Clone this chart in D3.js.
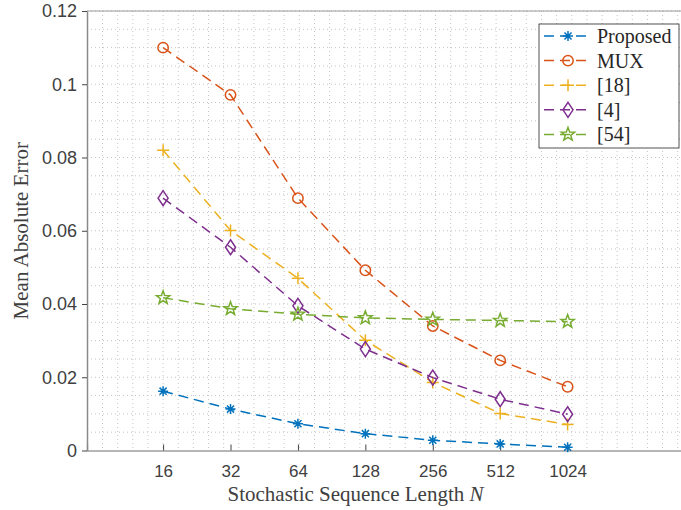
<!DOCTYPE html>
<html>
<head>
<meta charset="utf-8">
<script src="https://cdn.jsdelivr.net/npm/d3@7"></script>
<style>
  body { margin: 0; background: #fff; }
  svg { display: block; }
</style>
</head>
<body>
<div id="chart"></div>
<script>
// data
var lengths = [16, 32, 64, 128, 256, 512, 1024];
var proposed = [0.0162, 0.0113, 0.0073, 0.0046, 0.0028, 0.0018, 0.0009];
var mux      = [0.1100, 0.0971, 0.0689, 0.0492, 0.0340, 0.0246, 0.0174];
var ref18    = [0.0820, 0.0601, 0.0470, 0.0301, 0.0186, 0.0101, 0.0071];
var ref4     = [0.0689, 0.0555, 0.0395, 0.0277, 0.0199, 0.0140, 0.0099];
var ref54    = [0.0417, 0.0387, 0.0372, 0.0362, 0.0358, 0.0355, 0.0352];
var seriesNames = ["Proposed", "MUX", "[18]", "[4]", "[54]"];
var yTicks = [0, 0.02, 0.04, 0.06, 0.08, 0.1, 0.12];

var series = [
  {name: seriesNames[0], values: proposed, color: "#0072BD", marker: "asterisk"},
  {name: seriesNames[1], values: mux,      color: "#D95319", marker: "circle"},
  {name: seriesNames[2], values: ref18,    color: "#EDB120", marker: "plus"},
  {name: seriesNames[3], values: ref4,     color: "#7E2F8E", marker: "diamond"},
  {name: seriesNames[4], values: ref54,    color: "#77AC30", marker: "star"}
];

var W = 681, H = 510;
var margin = {top: 11, right: -14, bottom: 59.5, left: 87};
var width = W - margin.left - margin.right,
    height = H - margin.top - margin.bottom;

var svg = d3.select("#chart").append("svg")
  .attr("width", W).attr("height", H)
  .append("g")
  .attr("transform", `translate(${margin.left},${margin.top})`);

// x is the index of the sequence length (evenly spaced ticks)
var x = d3.scaleLinear().domain([-0.1288, 8.8895]).range([0, width]);
var y = d3.scaleLinear().domain([0, 0.12]).range([height, 0]);

// minor / major grid (dotted)
var xg = [];
for (var k = -6; k <= 36; k++) { var v = 1 + k * 0.2245; if (x(v) > 0.5 && x(v) < width) xg.push(v); }
var yg = d3.range(0.005, 0.1201, 0.005);

svg.append("g").selectAll("line").data(xg).join("line")
  .attr("x1", d => x(d)).attr("x2", d => x(d))
  .attr("y1", 0).attr("y2", height)
  .attr("stroke", "#c4c4c4").attr("stroke-width", 1)
  .attr("stroke-dasharray", "1,3");

svg.append("g").selectAll("line").data(yg).join("line")
  .attr("x1", 0).attr("x2", width)
  .attr("y1", d => y(d)).attr("y2", d => y(d))
  .attr("stroke", "#c4c4c4").attr("stroke-width", 1)
  .attr("stroke-dasharray", "1,3");

// top border
svg.append("line").attr("x1", 0).attr("x2", width).attr("y1", 0).attr("y2", 0)
  .attr("stroke", "#9a9a9a").attr("stroke-width", 1);

// axes
var xAxis = d3.axisBottom(x).tickValues(d3.range(1, 8))
  .tickFormat((d, i) => lengths[i]).tickSize(-6).tickPadding(14);
var gx = svg.append("g").attr("transform", `translate(0,${height})`).call(xAxis);
gx.select(".domain").attr("stroke", "#6e6e6e").attr("stroke-width", 1.2);
gx.selectAll(".tick line").attr("stroke", "#444");
gx.selectAll("text").attr("fill", "#404040")
  .style("font-family", "'Liberation Sans', Arial, sans-serif").style("font-size", "17px");

var yAxis = d3.axisLeft(y).tickValues(yTicks).tickFormat(d => d3.format("")(+d.toFixed(2)))
  .tickSize(5).tickPadding(5).tickSizeOuter(0);
var gy = svg.append("g").call(yAxis);
gy.select(".domain").attr("stroke", "#8a8a8a").attr("stroke-width", 1.5);
gy.selectAll(".tick line").attr("stroke", "#444");
gy.selectAll("text").attr("fill", "#404040")
  .style("font-family", "'Liberation Sans', Arial, sans-serif").style("font-size", "18px");

// axis titles
var serif = "'Liberation Serif', 'Times New Roman', serif";
var xt = svg.append("text")
  .attr("x", 355.5 - margin.left).attr("y", 501 - margin.top)
  .attr("text-anchor", "middle").attr("fill", "#404040")
  .style("font-family", serif).style("font-size", "21px");
xt.append("tspan").text("Stochastic Sequence Length ");
xt.append("tspan").style("font-style", "italic").text("N");

svg.append("text")
  .attr("transform", `translate(${28 - margin.left},${y(0.06)}) rotate(-90)`)
  .attr("text-anchor", "middle").attr("fill", "#404040")
  .style("font-family", serif).style("font-size", "21px")
  .text("Mean Absolute Error");

// marker shapes
function markerPath(type) {
  if (type === "circle") return d3.symbol(d3.symbolCircle, 85)();
  if (type === "plus") return "M-6,0H6M0,-6V6";
  if (type === "diamond") return "M0,-7.5L5,0L0,7.5L-5,0Z";
  if (type === "asterisk") {
    var r = 5, s = r * 0.7071;
    return `M${-r},0H${r}M0,${-r}V${r}M${-s},${-s}L${s},${s}M${-s},${s}L${s},${-s}`;
  }
  if (type === "star") {
    var pts = [];
    for (var i = 0; i < 10; i++) {
      var rr = i % 2 === 0 ? 7 : 2.9;
      var a = -Math.PI / 2 + i * Math.PI / 5;
      pts.push([rr * Math.cos(a), rr * Math.sin(a)]);
    }
    return "M" + pts.map(p => p.join(",")).join("L") + "Z";
  }
}

var line = d3.line().x((d, i) => x(i + 1)).y(d => y(d));

series.forEach(function(s) {
  svg.append("path").datum(s.values)
    .attr("d", line).attr("fill", "none")
    .attr("stroke", s.color).attr("stroke-width", 1.5)
    .attr("stroke-dasharray", "10,6");
  svg.append("g").selectAll("path").data(s.values).join("path")
    .attr("transform", (d, i) => `translate(${x(i + 1)},${y(d)})`)
    .attr("d", markerPath(s.marker))
    .attr("fill", "none").attr("stroke", s.color).attr("stroke-width", 1.5);
});

// legend
var lg = svg.append("g").attr("transform", `translate(${539 - margin.left},${24 - margin.top})`);
lg.append("rect").attr("width", 140).attr("height", 124)
  .attr("fill", "#fff").attr("stroke", "#262626").attr("stroke-width", 0.8);
series.forEach(function(s, i) {
  var cy = 12 + i * 24.6;
  lg.append("line").attr("x1", 4).attr("x2", 53).attr("y1", cy).attr("y2", cy)
    .attr("stroke", s.color).attr("stroke-width", 1.5).attr("stroke-dasharray", "10,6")
    .attr("stroke-dashoffset", -1);
  lg.append("path").attr("transform", `translate(29,${cy})`)
    .attr("d", markerPath(s.marker)).attr("fill", "none")
    .attr("stroke", s.color).attr("stroke-width", 1.5);
  lg.append("text").attr("x", 58).attr("y", cy).attr("dy", "0.35em")
    .attr("fill", "#262626")
    .style("font-family", serif).style("font-size", "20px")
    .text(s.name);
});
</script>
</body>
</html>
